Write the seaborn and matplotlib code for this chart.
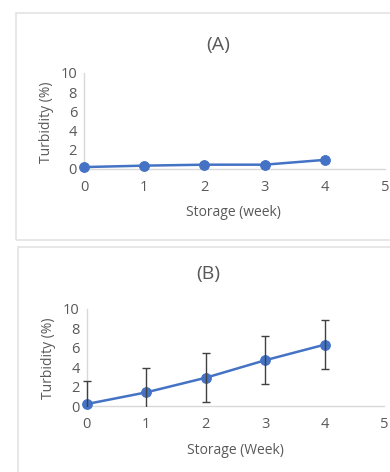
import numpy as np
import pandas as pd
import seaborn as sns
import matplotlib.pyplot as plt
from matplotlib.patches import Rectangle

# donnees
weeks = [0, 1, 2, 3, 4]
turb_a = [0.2, 0.35, 0.45, 0.45, 0.95]
turb_b = [0.2, 1.4, 2.9, 4.7, 6.3]
err_b = [2.4, 2.5, 2.5, 2.45, 2.5]
x_ticks = [0, 1, 2, 3, 4, 5]
y_ticks = [0, 2, 4, 6, 8, 10]

sns.set_style("white")
plt.rcParams['font.family'] = ['Open Sans', 'DejaVu Sans']

blue = "#4472C4"
grey_txt = "#595959"
grey_line = "#D9D9D9"

fig = plt.figure(figsize=(3.9, 4.72), dpi=100)

# cadres des deux panneaux
fig.patches.append(Rectangle((16 / 390, 1 - 240 / 472), 1, 227 / 472, transform=fig.transFigure,
                             fill=False, edgecolor="#E3E3E3", linewidth=1.2))
fig.patches.append(Rectangle((17.5 / 390, -0.1), 1, 1 - 247 / 472 + 0.1, transform=fig.transFigure,
                             fill=False, edgecolor="#E3E3E3", linewidth=1.2))

ax_a = fig.add_axes([84 / 390, 1 - 169 / 472, 301 / 390, 96 / 472])
ax_b = fig.add_axes([86.7 / 390, 1 - 406 / 472, 297.3 / 390, 97.3 / 472])


def style_axes(ax):
    ax.set_xlim(0, 5)
    ax.set_ylim(0, 10)
    ax.set_xticks(x_ticks)
    ax.set_yticks(y_ticks)
    ax.tick_params(length=0, labelsize=10.5, colors=grey_txt, pad=8)
    ax.tick_params(axis="y", pad=5)
    for s in ["top", "right"]:
        ax.spines[s].set_visible(False)
    for s in ["left", "bottom"]:
        ax.spines[s].set_color(grey_line)
        ax.spines[s].set_linewidth(1.0)
    ax.set_xlabel("")
    ax.set_ylabel("")
    ax.set_facecolor("none")


df_a = pd.DataFrame({"week": weeks, "turb": turb_a})
sns.lineplot(data=df_a, x="week", y="turb", ax=ax_a, color=blue, linewidth=1.8,
             marker="o", markersize=7, markeredgecolor=blue, clip_on=False, zorder=3)
style_axes(ax_a)

df_b = pd.DataFrame({"week": weeks, "turb": turb_b, "err": err_b})
eb = ax_b.errorbar(df_b["week"], df_b["turb"], yerr=df_b["err"], fmt="none", ecolor="#404040",
                   elinewidth=1.0, capsize=3, capthick=1.0, zorder=4)
# coupe en bas a l'axe (comme Excel), mais pas sur les cotes
clip = Rectangle((-0.05, -0.01), 1.1, 1.2, transform=ax_b.transAxes)
for art in list(eb.lines[1]) + list(eb.lines[2]):
    art.set_clip_path(clip)
sns.lineplot(data=df_b, x="week", y="turb", ax=ax_b, color=blue, linewidth=1.8,
             marker="o", markersize=7, markeredgecolor=blue, clip_on=False, zorder=3)
style_axes(ax_b)

# titres et labels
fig.text(218 / 390, 1 - 45 / 472, "(A)", ha="center", va="center", fontsize=14, color=grey_txt)
fig.text(208 / 390, 1 - 274 / 472, "(B)", ha="center", va="center", fontsize=14, color=grey_txt)
fig.text(233 / 390, 1 - 212 / 472, "Storage (week)", ha="center", va="center", fontsize=10, color=grey_txt)
fig.text(235 / 390, 1 - 450 / 472, "Storage (Week)", ha="center", va="center", fontsize=10, color=grey_txt)
fig.text(46 / 390, 1 - 122 / 472, "Turbidity (%)", ha="center", va="center", rotation=90,
         fontsize=10, color=grey_txt)
fig.text(48 / 390, 1 - 358 / 472, "Turbidity (%)", ha="center", va="center", rotation=90,
         fontsize=10, color=grey_txt)

fig.savefig("out.png", dpi=100)
